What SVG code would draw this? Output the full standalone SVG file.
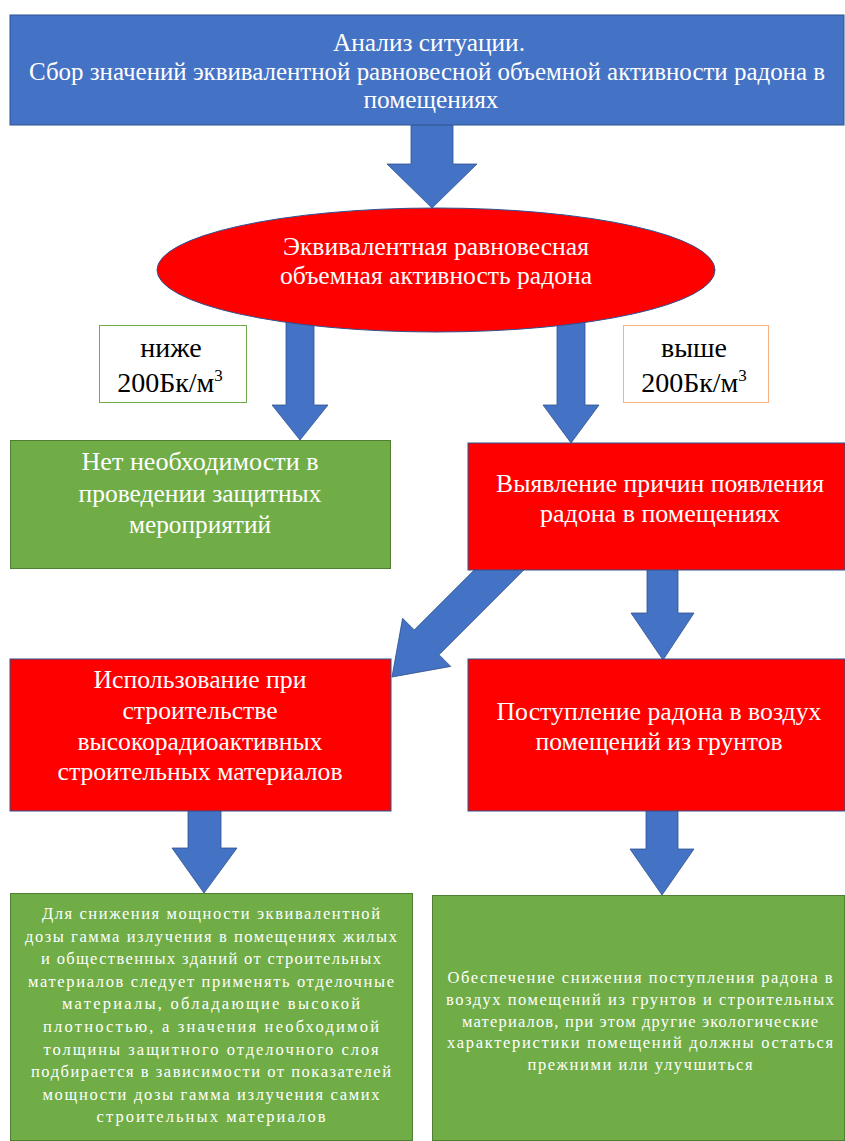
<svg xmlns="http://www.w3.org/2000/svg" width="845" height="1141" viewBox="0 0 845 1141">
<style>
.blue{fill:#4472C4;stroke:#2F528F;stroke-width:1}
.red{fill:#FF0000;stroke:#2F528F;stroke-width:1}
.green{fill:#70AD47;stroke:#507E32;stroke-width:1}
.arrow{fill:#4472C4;stroke:#2F528F;stroke-width:0.8}
.t{font-family:"Liberation Serif","Times New Roman",serif;font-size:26px;fill:#FFFFFF;text-anchor:middle}
.s{font-family:"Liberation Serif","Times New Roman",serif;font-size:16.5px;fill:#FFFFFF;text-anchor:middle}
.lbl{font-family:"Liberation Serif","Times New Roman",serif;font-size:28px;fill:#000000;text-anchor:middle}
</style>
<rect width="845" height="1141" fill="#FFFFFF"/>
<g id="connectors">
<polygon class="arrow" points="411,120 453,120 453,164 477,164 432,208 387,164 411,164"/>
<polygon class="arrow" points="286,300 314,300 314,405 328,405 300,440 272,405 286,405"/>
<polygon class="arrow" points="557,300 585,300 585,405 599,405 571,443 543,405 557,405"/>
<polygon class="arrow" transform="translate(392,677) rotate(135)" points="0,0 -49,-34 -49,-17.5 -180,-17.5 -180,17.5 -49,17.5 -49,34"/>
<polygon class="arrow" points="647,565 678,565 678,613 694,613 663,660 631,613 647,613"/>
<polygon class="arrow" points="188,805 221,805 221,848 237,848 204,893 172,848 188,848"/>
<polygon class="arrow" points="646,805 678,805 678,849 694,849 662,895 630,849 646,849"/>
</g>
<g id="n-analysis">
<rect class="blue" x="10" y="15" width="834" height="110"/>
<text class="t" x="429" y="51" textLength="192" lengthAdjust="spacingAndGlyphs">Анализ ситуации.</text>
<text class="t" x="427" y="80" font-size="24" textLength="796" lengthAdjust="spacingAndGlyphs">Сбор значений эквивалентной равновесной объемной активности радона в</text>
<text class="t" x="431" y="108" textLength="135" lengthAdjust="spacingAndGlyphs">помещениях</text>
</g>
<g id="n-decision">
<ellipse class="red" cx="436" cy="270" rx="279" ry="62"/>
<text class="t" x="436" y="255" textLength="306" lengthAdjust="spacingAndGlyphs">Эквивалентная равновесная</text>
<text class="t" x="436" y="284" textLength="312" lengthAdjust="spacingAndGlyphs">объемная активность радона</text>
</g>
<g id="lbl-below">
<rect x="99.5" y="325.5" width="147" height="77" fill="#FFFFFF" stroke="#70AD47" stroke-width="1"/>
<text class="lbl" x="171" y="357">ниже</text>
<text class="lbl" x="170" y="392">200Бк/м<tspan font-size="17" dy="-11">3</tspan></text>
</g>
<g id="lbl-above">
<rect x="623.5" y="325.5" width="145" height="77" fill="#FFFFFF" stroke="#F4B183" stroke-width="1"/>
<text class="lbl" x="694" y="357">выше</text>
<text class="lbl" x="694" y="392">200Бк/м<tspan font-size="17" dy="-11">3</tspan></text>
</g>
<g id="n-no-need">
<rect class="green" x="10.5" y="440.5" width="380" height="128"/>
<text class="t" x="200" y="470" textLength="237" lengthAdjust="spacingAndGlyphs">Нет необходимости в</text>
<text class="t" x="200" y="502" textLength="243" lengthAdjust="spacingAndGlyphs">проведении защитных</text>
<text class="t" x="200" y="533" textLength="142" lengthAdjust="spacingAndGlyphs">мероприятий</text>
</g>
<g id="n-causes">
<rect class="red" x="468" y="443" width="377" height="127"/>
<text class="t" x="660" y="492" textLength="328" lengthAdjust="spacingAndGlyphs">Выявление причин появления</text>
<text class="t" x="660" y="522" textLength="240" lengthAdjust="spacingAndGlyphs">радона в помещениях</text>
</g>
<g id="n-materials">
<rect class="red" x="10" y="659" width="381" height="152"/>
<text class="t" x="200" y="688" textLength="213" lengthAdjust="spacingAndGlyphs">Использование при</text>
<text class="t" x="200" y="719" textLength="155" lengthAdjust="spacingAndGlyphs">строительстве</text>
<text class="t" x="200" y="750" textLength="245" lengthAdjust="spacingAndGlyphs">высокорадиоактивных</text>
<text class="t" x="200" y="780" textLength="285" lengthAdjust="spacingAndGlyphs">строительных материалов</text>
</g>
<g id="n-soil">
<rect class="red" x="468" y="659" width="377" height="152"/>
<text class="t" x="659" y="720" textLength="325" lengthAdjust="spacingAndGlyphs">Поступление радона в воздух</text>
<text class="t" x="659" y="750" textLength="247" lengthAdjust="spacingAndGlyphs">помещений из грунтов</text>
</g>
<g id="n-measure-materials">
<rect class="green" x="10.5" y="893.5" width="402" height="247"/>
<text class="s" x="211" y="919" textLength="338" lengthAdjust="spacing">Для снижения мощности эквивалентной</text>
<text class="s" x="211" y="941.6" textLength="372" lengthAdjust="spacing">дозы гамма излучения в помещениях жилых</text>
<text class="s" x="211" y="964.2" textLength="340" lengthAdjust="spacing">и общественных зданий от строительных</text>
<text class="s" x="211" y="986.8" textLength="366" lengthAdjust="spacing">материалов следует применять отделочные</text>
<text class="s" x="211" y="1009.4" textLength="298" lengthAdjust="spacing">материалы, обладающие высокой</text>
<text class="s" x="211" y="1032" textLength="336" lengthAdjust="spacing">плотностью, а значения необходимой</text>
<text class="s" x="211" y="1054.6" textLength="335" lengthAdjust="spacing">толщины защитного отделочного слоя</text>
<text class="s" x="211" y="1077.2" textLength="360" lengthAdjust="spacing">подбирается в зависимости от показателей</text>
<text class="s" x="211" y="1099.8" textLength="337" lengthAdjust="spacing">мощности дозы гамма излучения самих</text>
<text class="s" x="211" y="1122.4" textLength="229" lengthAdjust="spacing">строительных материалов</text>
</g>
<g id="n-measure-soil">
<rect class="green" x="432.5" y="895.5" width="412" height="245"/>
<text class="s" x="640" y="983" textLength="385" lengthAdjust="spacing">Обеспечение снижения поступления радона в</text>
<text class="s" x="640" y="1005" textLength="388" lengthAdjust="spacing">воздух помещений из грунтов и строительных</text>
<text class="s" x="640" y="1027" textLength="356" lengthAdjust="spacing">материалов, при этом другие экологические</text>
<text class="s" x="640" y="1048" textLength="386" lengthAdjust="spacing">характеристики помещений должны остаться</text>
<text class="s" x="640" y="1070" textLength="225" lengthAdjust="spacing">прежними или улучшиться</text>
</g>
</svg>
